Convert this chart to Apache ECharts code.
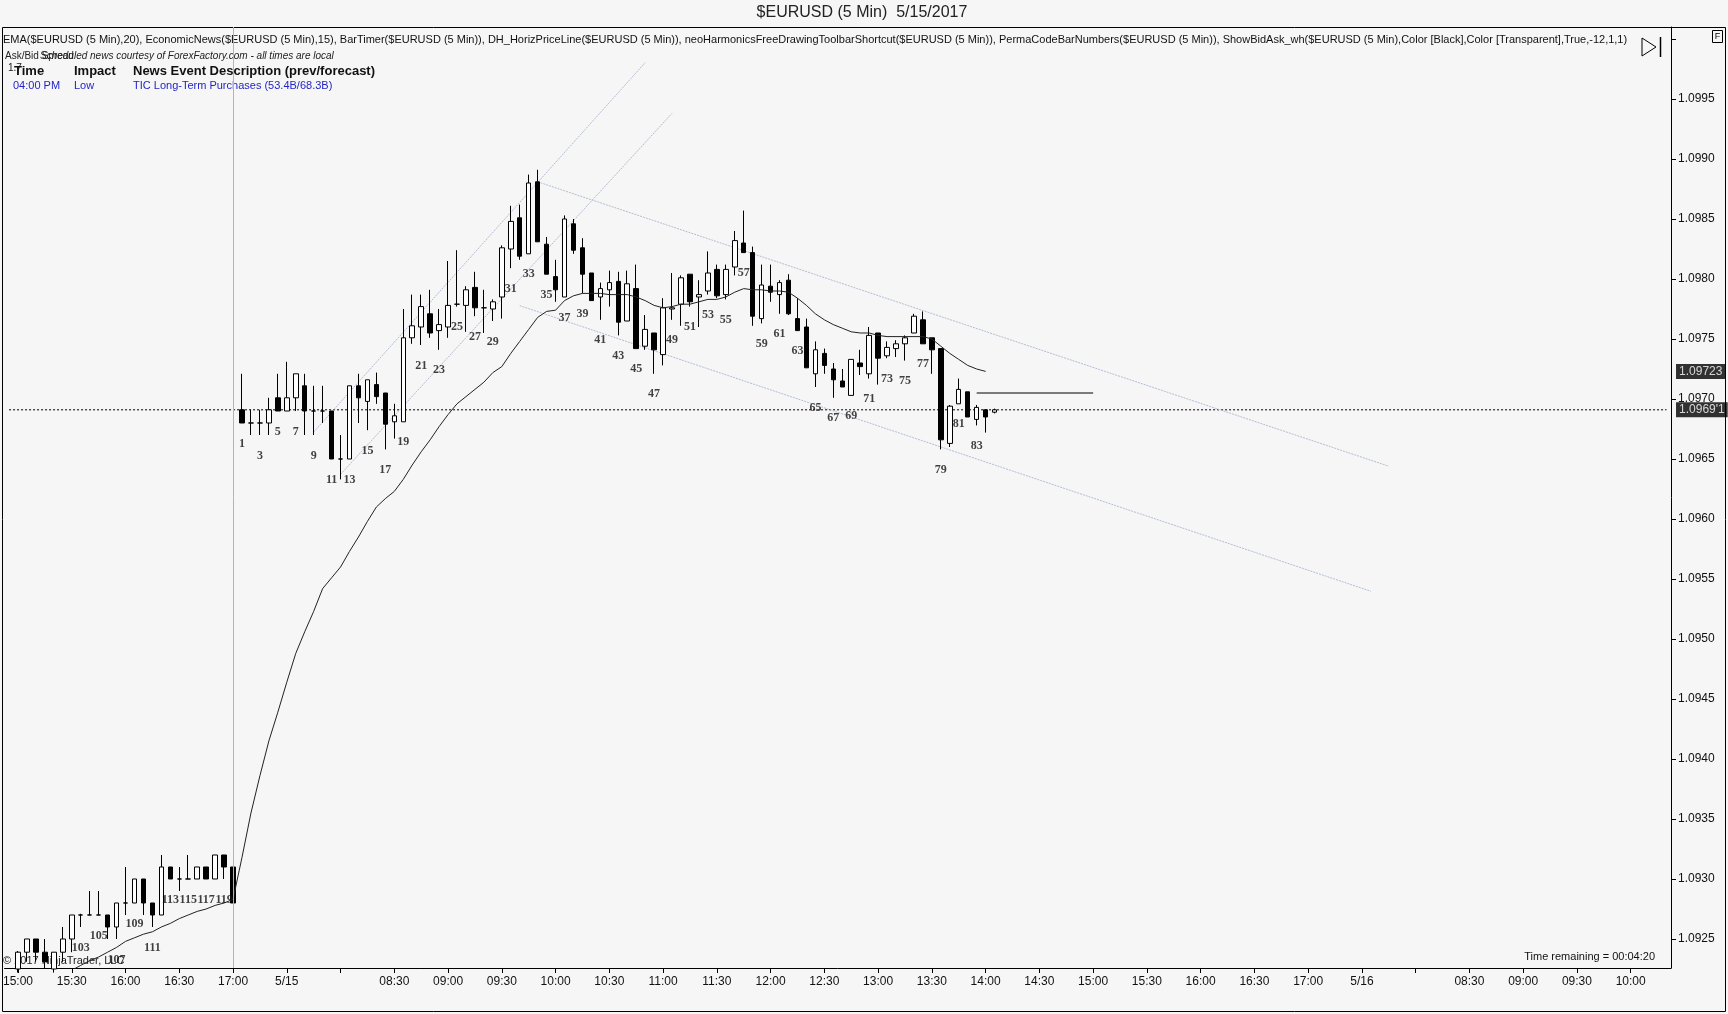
<!DOCTYPE html>
<html><head><meta charset="utf-8">
<script src="https://cdn.jsdelivr.net/npm/echarts@6/dist/echarts.min.js"></script>
<style>html,body{margin:0;padding:0;background:#f6f6f6;}#c{width:1728px;height:1014px;}</style>
</head><body><div id="c"></div>
<script>
// ---------- data ----------
const sessions = [
  { date: '5/14', start: '14:55', end: '17:00' },
  { date: '5/15', start: '07:05', end: '17:00' },
  { date: '5/16', start: '07:05', end: '10:20' }
];
const sessionOpen = '07:00';
const tickLabels = ['15:00','15:30','16:00','16:30','17:00',
  '5/15','','08:30','09:00','09:30','10:00','10:30','11:00','11:30','12:00','12:30','13:00','13:30','14:00','14:30','15:00','15:30','16:00','16:30','17:00',
  '5/16','','08:30','09:00','09:30','10:00'];
const firstCandle = '5/14 15:00';

const opens = [1.09225,1.09239,1.09250,1.09239,1.09225,1.09239,1.09250,1.09270,1.09270,1.09270,1.09270,1.09260,1.09280,1.09280,1.09300,1.09280,1.09270,1.09310,1.09300,1.09300,1.09300,1.09310,1.09300,1.09320,1.09310,
 1.09691,1.09680,1.09680,1.09680,1.09701,1.09690,1.09701,1.09711,1.09690,1.09690,1.09690,1.09650,1.09650,1.09711,1.09698,1.09712,1.09705,1.09681,1.09681,1.09751,
 1.09760,1.09771,1.09757,1.09760,1.09779,1.09778,1.09793,1.09776,1.09775,1.09785,1.09825,1.09851,1.09821,1.09881,1.09829,1.09802,1.09785,1.09846,1.09826,1.09805,
 1.09785,1.09791,1.09798,1.09765,1.09792,1.09744,1.09755,1.09737,1.09775,1.09779,1.09804,1.09785,1.09790,1.09808,1.09787,1.09810,1.09830,1.09822,1.09767,1.09794,
 1.09787,1.09799,1.09767,1.09760,1.09721,1.09738,1.09725,1.09715,1.09703,1.09730,1.09721,1.09755,1.09736,1.09742,1.09746,1.09755,1.09766,1.09751,1.09742,1.09663,
 1.09696,1.09706,1.09683,1.09691,1.09689];
const highs = [1.09240,1.09250,1.09250,1.09250,1.09239,1.09260,1.09270,1.09271,1.09290,1.09290,1.09270,1.09280,1.09310,1.09300,1.09300,1.09280,1.09320,1.09310,1.09310,1.09320,1.09310,1.09310,1.09320,1.09320,1.09310,
 1.09721,1.09691,1.09691,1.09701,1.09721,1.09731,1.09721,1.09721,1.09711,1.09711,1.09690,1.09670,1.09711,1.09721,1.09716,1.09722,1.09705,1.09696,1.09775,1.09787,
 1.09787,1.09791,1.09775,1.09815,1.09824,1.09794,1.09806,1.09791,1.09783,1.09828,1.09861,1.09862,1.09887,1.09891,1.09835,1.09816,1.09853,1.09850,1.09834,1.09805,
 1.09797,1.09807,1.09806,1.09807,1.09812,1.09770,1.09755,1.09784,1.09805,1.09803,1.09804,1.09799,1.09823,1.09812,1.09812,1.09840,1.09857,1.09827,1.09812,1.09812,
 1.09799,1.09804,1.09784,1.09767,1.09748,1.09742,1.09730,1.09725,1.09733,1.09741,1.09760,1.09755,1.09748,1.09749,1.09753,1.09771,1.09773,1.09751,1.09742,1.09695,
 1.09717,1.09706,1.09695,1.09691,1.09692];
const lows = [1.09222,1.09231,1.09231,1.09225,1.09222,1.09231,1.09239,1.09260,1.09270,1.09270,1.09250,1.09250,1.09270,1.09280,1.09270,1.09260,1.09270,1.09300,1.09290,1.09300,1.09300,1.09300,1.09300,1.09300,1.09280,
 1.09680,1.09670,1.09670,1.09670,1.09690,1.09690,1.09690,1.09670,1.09670,1.09680,1.09650,1.09633,1.09650,1.09680,1.09674,1.09696,1.09658,1.09667,1.09681,1.09746,
 1.09745,1.09751,1.09741,1.09751,1.09777,1.09756,1.09769,1.09755,1.09765,1.09767,1.09809,1.09816,1.09821,1.09831,1.09804,1.09781,1.09785,1.09821,1.09788,1.09782,
 1.09766,1.09777,1.09753,1.09765,1.09742,1.09741,1.09721,1.09728,1.09766,1.09761,1.09777,1.09760,1.09787,1.09784,1.09783,1.09803,1.09822,1.09761,1.09763,1.09781,
 1.09771,1.09770,1.09757,1.09726,1.09710,1.09721,1.09701,1.09710,1.09703,1.09720,1.09717,1.09712,1.09734,1.09735,1.09732,1.09755,1.09746,1.09721,1.09658,1.09660,
 1.09696,1.09685,1.09678,1.09672,1.09688];
const closes = [1.09239,1.09250,1.09239,1.09231,1.09239,1.09250,1.09270,1.09270,1.09270,1.09270,1.09260,1.09280,1.09280,1.09300,1.09280,1.09270,1.09310,1.09300,1.09300,1.09300,1.09310,1.09300,1.09320,1.09310,1.09280,
 1.09680,1.09680,1.09680,1.09691,1.09690,1.09701,1.09721,1.09690,1.09690,1.09690,1.09650,1.09650,1.09711,1.09701,1.09716,1.09702,1.09679,1.09686,1.09751,1.09761,
 1.09777,1.09755,1.09762,1.09778,1.09779,1.09791,1.09776,1.09776,1.09781,1.09826,1.09848,1.09819,1.09880,1.09831,1.09804,1.09791,1.09850,1.09824,1.09804,1.09782,
 1.09792,1.09797,1.09764,1.09796,1.09742,1.09758,1.09741,1.09776,1.09776,1.09801,1.09781,1.09787,1.09805,1.09786,1.09808,1.09832,1.09822,1.09769,1.09795,1.09789,
 1.09797,1.09771,1.09757,1.09726,1.09741,1.09728,1.09716,1.09710,1.09733,1.09727,1.09753,1.09734,1.09743,1.09746,1.09751,1.09769,1.09746,1.09741,1.09666,1.09694,
 1.09708,1.09685,1.09693,1.09685,1.09691];
const ema20 = [null,null,null,null,null,1.09220,1.09224,1.09228,1.09232,1.09235,1.09239,1.09243,1.09248,1.09251,1.09254,1.09256,1.09260,1.09263,1.09267,1.09270,1.09273,1.09275,1.09278,1.09280,1.09283,
 1.09318,1.09355,1.09386,1.09415,1.09439,1.09464,1.09488,1.09506,1.09523,1.09542,1.09551,1.09560,1.09573,1.09585,1.09598,1.09610,1.09617,1.09623,1.09633,1.09645,
 1.09656,1.09666,1.09677,1.09687,1.09696,1.09702,1.09708,1.09714,1.09722,1.09727,1.09738,1.09748,1.09758,1.09768,1.09773,1.09774,1.09782,1.09786,1.09788,1.09788,
 1.09788,1.09787,1.09787,1.09787,1.09785,1.09782,1.09778,1.09776,1.09777,1.09779,1.09779,1.09781,1.09783,1.09783,1.09785,1.09789,1.09792,1.09791,1.09791,1.09790,
 1.09790,1.09789,1.09784,1.09778,1.09771,1.09766,1.09762,1.09759,1.09756,1.09755,1.09755,1.09753,1.09752,1.09752,1.09752,1.09752,1.09752,1.09750,1.09744,1.09738,
 1.09733,1.09728,1.09725,1.09723,null];
// drawn lines: [from time, from price], [to time, to price]
const channelLines = [
  [['5/15 07:45', 1.096725], ['5/15 10:50', 1.099803]],
  [['5/15 08:00', 1.096372], ['5/15 11:05', 1.099381]],
  [['5/15 09:50', 1.098810], ['5/16 07:45', 1.096440]],
  [['5/15 09:40', 1.097778], ['5/16 07:35', 1.095398]]
];
const horizPriceLine = [['5/15 13:55', 1.09705], ['5/15 15:00', 1.09705]];
const sessionBreak = '5/14 17:00';
const yLabelValues = [1.0925,1.0930,1.0935,1.0940,1.0945,1.0950,1.0955,1.0960,1.0965,1.0970,1.0975,1.0980,1.0985,1.0990,1.0995];
const yTickValues = yLabelValues.concat([1.1000]);
const yMin = 1.0922583, yMax = 1.1001;

// ---------- build ----------
function toMin(t){ const p=t.split(':'); return (+p[0])*60 + (+p[1]); }
function fmt(m){ const h=Math.floor(m/60), mm=m%60; return (h<10?'0':'')+h+':'+(mm<10?'0':'')+mm; }
const categories = [];
sessions.forEach(s => { for (let m=toMin(s.start); m<=toMin(s.end); m+=5) categories.push(s.date+' '+fmt(m)); });
const isHalf = v => /:(00|30)$/.test(v);
const labelMap = {}; let hi = 0;
categories.forEach(c => { if (isHalf(c)) labelMap[c] = tickLabels[hi++]; });
const off = categories.indexOf(firstCandle);
const candleData = categories.map((c,i) => { const j=i-off; return (j>=0 && j<opens.length) ? [opens[j],closes[j],lows[j],highs[j]] : '-'; });
const emaData = categories.map((c,i) => { const j=i-off; return (j>=0 && j<ema20.length && ema20[j]!=null) ? ema20[j] : '-'; });
const numLabels = [];
opens.forEach((o,j) => {
  if (j === opens.length - 1) return; // bar still forming
  const cat = categories[j+off];
  const n = (toMin(cat.split(' ')[1]) - toMin(sessionOpen)) / 5;
  if (n % 2 === 1 && lows[j] > yMin + 0.0002) numLabels.push([cat, lows[j], n]);
});
const lastPrice = closes[closes.length-1];
const lastEma = ema20.filter(v => v!=null).slice(-1)[0];
const firstCat = categories[0], lastCat = categories[categories.length-1];

const SANS = 'Liberation Sans, Arial, sans-serif';
const indText = 'EMA($EURUSD (5 Min),20), EconomicNews($EURUSD (5 Min),15), BarTimer($EURUSD (5 Min)), DH_HorizPriceLine($EURUSD (5 Min)), neoHarmonicsFreeDrawingToolbarShortcut($EURUSD (5 Min)), PermaCodeBarNumbers($EURUSD (5 Min)), ShowBidAsk_wh($EURUSD (5 Min),Color [Black],Color [Transparent],True,-12,1,1)';
function fitSize(text, family, target, base){
  const ctx = document.createElement('canvas').getContext('2d');
  ctx.font = base+'px '+family; const w = ctx.measureText(text).width;
  return Math.max(9, Math.min(12.5, base*target/w));
}
const indSize = fitSize(indText, SANS, 1625, 11);

const tagSeries = (value, text) => ({
  type:'scatter', data:[[lastCat, value]], symbolSize:1, itemStyle:{ color:'rgba(0,0,0,0)' }, silent:true, z:10, clip:false,
  label:{ show:true, position:'right', distance:9, formatter: text, backgroundColor:'#000', color:'#fff',
    padding:[2,3,1,3], fontSize:12, fontFamily:SANS }
});

const series = [
  { type:'candlestick', data: candleData, barWidth:5, clip:true,
    itemStyle:{ color:'#ffffff', color0:'#000000', borderColor:'#000000', borderColor0:'#000000', borderColorDoji:'#000000', borderWidth:1 },
    markLine:{ silent:true, symbol:'none', animation:false,
      data:[ { xAxis: sessionBreak, lineStyle:{ color:'#b4b4b4', width:1, type:'solid' }, label:{ show:false } } ] },
    z:3 },
  { type:'line', data: emaData, showSymbol:false, symbol:'none', clip:true, lineStyle:{ color:'#222', width:1 }, z:4 },
  { type:'scatter', data: numLabels, symbolSize:1, itemStyle:{ color:'rgba(0,0,0,0)' }, silent:true, z:5,
    label:{ show:true, position:'bottom', distance:14, formatter: p => String(p.data[2]),
      fontFamily:'Liberation Serif, Times New Roman, serif', fontWeight:'bold', fontSize:12, color:'#111' } },
  { type:'line', data: horizPriceLine, symbol:'none', lineStyle:{ color:'#000', width:1.2 }, z:4 },
  { type:'line', data: [[firstCat, lastPrice], [lastCat, lastPrice]], symbol:'none', silent:true, z:2,
    lineStyle:{ color:'#000', width:1, type:[2,2] } },
  tagSeries(lastEma, () => lastEma.toFixed(5)),
  tagSeries(lastPrice, () => { const s=lastPrice.toFixed(5); return s.slice(0,6)+"'"+s.slice(6); })
];
channelLines.forEach(l => series.push({ type:'line', data:l, symbol:'none', silent:true, z:2,
  lineStyle:{ color:'#b3bcd2', width:1, type:[2,1] } }));

const graphic = [
  { type:'rect', shape:{ x:2.5, y:27.5, width:1723, height:984 }, style:{ fill:'none', stroke:'#000', lineWidth:1 }, silent:true },
  { type:'text', x:862, y:13, style:{ text:'$EURUSD (5 Min)  5/15/2017', font:'16px '+SANS, fill:'#222', textAlign:'center', textVerticalAlign:'middle' } },
  { type:'text', x:3, y:40, style:{ text:indText, font:indSize+'px '+SANS, fill:'#111', textVerticalAlign:'middle' } },
  { type:'text', x:5, y:56, style:{ text:'Ask/Bid Spread', font:'10px '+SANS, fill:'#222', textVerticalAlign:'middle' } },
  { type:'text', x:40, y:56, style:{ text:'Scheduled news courtesy of ForexFactory.com - all times are local', font:'italic 10px '+SANS, fill:'#222', textVerticalAlign:'middle' } },
  { type:'text', x:8, y:68, style:{ text:'1.7', font:'10px '+SANS, fill:'#222', textVerticalAlign:'middle' } },
  { type:'text', x:14, y:71, style:{ text:'Time', font:'bold 13px '+SANS, fill:'#111', textVerticalAlign:'middle' } },
  { type:'text', x:74, y:71, style:{ text:'Impact', font:'bold 13px '+SANS, fill:'#111', textVerticalAlign:'middle' } },
  { type:'text', x:133, y:71, style:{ text:'News Event Description (prev/forecast)', font:'bold 13px '+SANS, fill:'#111', textVerticalAlign:'middle' } },
  { type:'text', x:13, y:86, style:{ text:'04:00 PM', font:'11px '+SANS, fill:'#2424c8', textVerticalAlign:'middle' } },
  { type:'text', x:74, y:86, style:{ text:'Low', font:'11px '+SANS, fill:'#2424c8', textVerticalAlign:'middle' } },
  { type:'text', x:133, y:86, style:{ text:'TIC Long-Term Purchases (53.4B/68.3B)', font:'11px '+SANS, fill:'#2424c8', textVerticalAlign:'middle' } },
  { type:'text', x:3, y:961, style:{ text:'\u00A9 2017 NinjaTrader, LLC', font:'11px '+SANS, fill:'#222', textVerticalAlign:'middle' } },
  { type:'text', x:1655, y:957, style:{ text:'Time remaining = 00:04:20', font:'11px '+SANS, fill:'#111', textAlign:'right', textVerticalAlign:'middle' } },
  { type:'polygon', shape:{ points:[[1642,38],[1642,56],[1656,47]] }, style:{ fill:'none', stroke:'#000', lineWidth:1 } },
  { type:'line', shape:{ x1:1660.5, y1:37, x2:1660.5, y2:57 }, style:{ stroke:'#000', lineWidth:1.5 } },
  { type:'rect', shape:{ x:1712.5, y:30.5, width:10, height:12 }, style:{ fill:'none', stroke:'#000', lineWidth:1 } },
  { type:'text', x:1717.5, y:36.5, style:{ text:'F', font:'9px '+SANS, fill:'#000', textAlign:'center', textVerticalAlign:'middle' } }
];

const chart = echarts.init(document.getElementById('c'), null, { renderer:'canvas' });
chart.setOption({
  animation:false,
  backgroundColor:'#f6f6f6',
  grid:{ left:4.5, right:57, top:27, bottom:46, containLabel:false },
  xAxis:{ type:'category', data:categories, boundaryGap:true,
    axisLine:{ show:true, lineStyle:{ color:'#000', width:1 } },
    axisTick:{ show:true, alignWithLabel:true, interval:(i,v)=>isHalf(v), length:5, lineStyle:{ color:'#000' } },
    axisLabel:{ show:true, interval:(i,v)=>isHalf(v), formatter:(v)=>labelMap[v] || '', color:'#111', fontSize:12, fontFamily:SANS, margin:8 },
    splitLine:{ show:false } },
  yAxis:{ type:'value', position:'right', min:yMin, max:yMax, scale:true,
    axisLine:{ show:true, lineStyle:{ color:'#000', width:1 } },
    axisTick:{ show:true, length:5, lineStyle:{ color:'#000' }, customValues:yTickValues },
    axisLabel:{ show:true, customValues:yLabelValues, formatter:v=>v.toFixed(4), color:'#111', fontSize:12, fontFamily:SANS, margin:7 },
    splitLine:{ show:false } },
  series: series,
  graphic: graphic
});
</script></body></html>
